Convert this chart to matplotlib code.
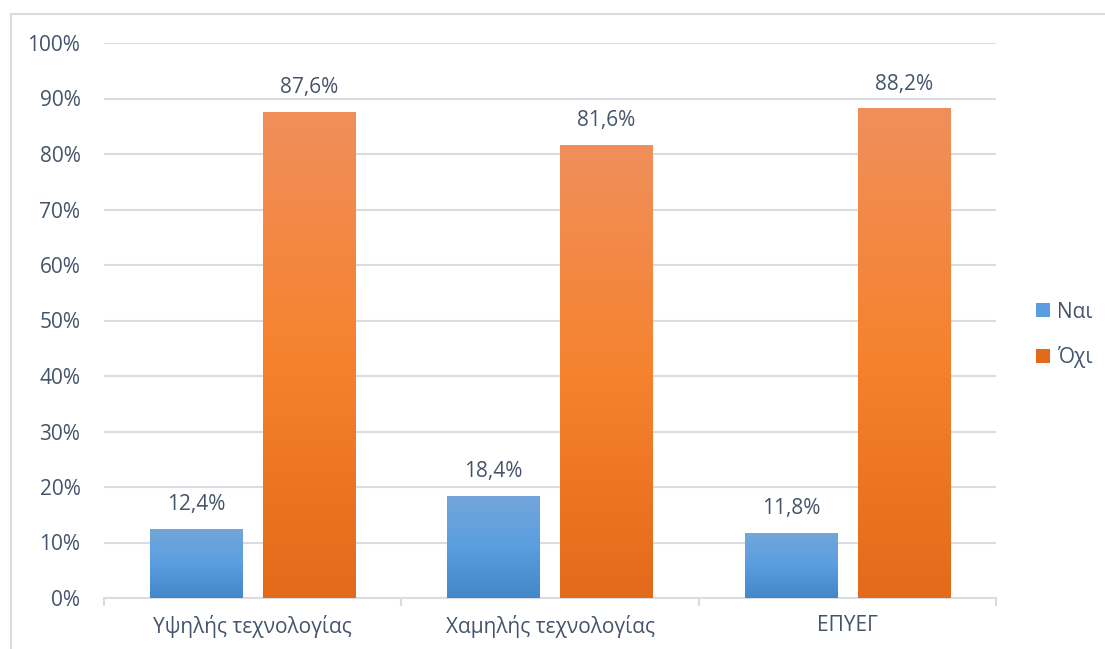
import numpy as np
import matplotlib
matplotlib.use("Agg")
import matplotlib.pyplot as plt
from matplotlib.lines import Line2D
from matplotlib.colors import LinearSegmentedColormap

plt.rcParams['font.family'] = ['Open Sans', 'DejaVu Sans']

categories = ["Υψηλής τεχνολογίας", "Χαμηλής τεχνολογίας", "ΕΠΥΕΓ"]
nai = [12.4, 18.4, 11.8]
ochi = [87.6, 81.6, 88.2]
series_names = ["Ναι", "Όχι"]
yticks = [0, 10, 20, 30, 40, 50, 60, 70, 80, 90, 100]

text_color = "#44546a"
grid_color = "#d9dde3"
blue_stops = ["#4487c8", "#5b9ee0", "#73a6d9"]      # bottom, middle, top
orange_stops = ["#e36a1a", "#f6822e", "#f08f5b"]

W, H = 1105, 649
FS = 15
fig = plt.figure(figsize=(W / 100, H / 100), dpi=100)
ax = fig.add_axes([104 / W, (H - 598) / H, (996 - 104) / W, (598 - 43) / H])

x = np.arange(len(categories))
offset = 0.19
width = 0.31

bars_nai = ax.bar(x - offset, nai, width, color=blue_stops[1], zorder=3, label=series_names[0])
bars_ochi = ax.bar(x + offset, ochi, width, color=orange_stops[1], zorder=3, label=series_names[1])


def shade(bars, stops):
    cmap = LinearSegmentedColormap.from_list("g", stops)
    grad = np.linspace(0, 1, 256).reshape(-1, 1)
    for p in bars:
        x0, y0 = p.get_x(), p.get_y()
        w, h = p.get_width(), p.get_height()
        im = ax.imshow(grad, cmap=cmap, origin="lower", aspect="auto",
                       extent=[x0, x0 + w, y0, y0 + h], zorder=4)
        im.set_clip_path(p)


shade(bars_nai, blue_stops)
shade(bars_ochi, orange_stops)
ax.set_xlim(-0.5, 2.5)
ax.set_ylim(0, 100)

for bars, vals in ((bars_nai, nai), (bars_ochi, ochi)):
    for p, v in zip(bars, vals):
        ax.annotate(f"{v:.1f}%".replace(".", ","),
                    (p.get_x() + p.get_width() / 2, v),
                    xytext=(0, 10), textcoords="offset points",
                    ha="center", va="bottom", fontsize=FS, color=text_color, zorder=5)

ax.set_yticks(yticks)
ax.set_yticklabels([f"{t}%" for t in yticks])
ax.set_xticks(x)
ax.set_xticklabels(categories)
ax.set_xticks([-0.5, 0.5, 1.5, 2.5], minor=True)
ax.tick_params(axis="y", length=0, pad=17, labelsize=FS, labelcolor=text_color)
ax.tick_params(axis="x", which="major", length=0, pad=12, labelsize=FS, labelcolor=text_color)
ax.tick_params(axis="x", which="minor", length=6, width=1.5, color=grid_color)

ax.grid(axis="y", color=grid_color, linewidth=1.5, zorder=0)
ax.set_axisbelow(True)
for s in ("top", "right", "left"):
    ax.spines[s].set_visible(False)
ax.spines["bottom"].set_color(grid_color)
ax.spines["bottom"].set_linewidth(1.5)

leg = fig.legend(handles=[bars_nai, bars_ochi], labels=series_names,
                 loc="center left", bbox_to_anchor=(1036 / W, (H - 335) / H),
                 frameon=False, fontsize=FS, handlelength=0.65, handleheight=0.65,
                 handletextpad=0.35, labelspacing=1.15, labelcolor=text_color,
                 borderpad=0, borderaxespad=0)
leg.legend_handles[0].set_facecolor(blue_stops[1])
leg.legend_handles[1].set_facecolor(orange_stops[0])

# outer frame lines
fig.add_artist(Line2D([11 / W, 11 / W], [0, (H - 14) / H], color=grid_color, lw=1.5))
fig.add_artist(Line2D([11 / W, 1.0], [(H - 14) / H, (H - 14) / H], color=grid_color, lw=1.5))

fig.savefig("out.png", dpi=100)
